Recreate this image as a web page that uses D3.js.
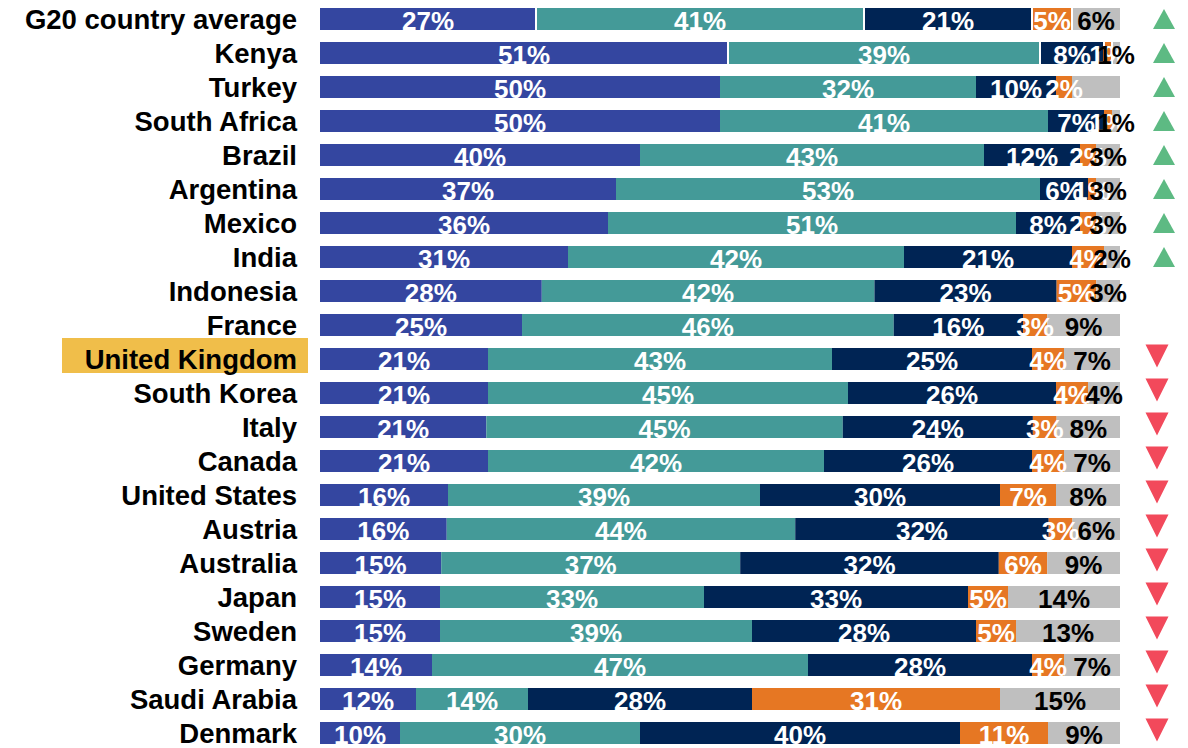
<!DOCTYPE html>
<html>
<head>
<meta charset="utf-8">
<script src="https://cdn.jsdelivr.net/npm/d3@7"></script>
<style>
  html, body { margin: 0; padding: 0; background: #ffffff; }
  svg { display: block; }
  text { font-family: "Liberation Sans", Arial, sans-serif; font-weight: bold; }
</style>
</head>
<body>
<svg id="chart" width="1188" height="748"></svg>
<script>
// Countries, top to bottom
const countries = [
  "G20 country average", "Kenya", "Turkey", "South Africa", "Brazil", "Argentina",
  "Mexico", "India", "Indonesia", "France", "United Kingdom", "South Korea", "Italy",
  "Canada", "United States", "Austria", "Australia", "Japan", "Sweden", "Germany",
  "Saudi Arabia", "Denmark"
];

// Share of respondents (%) in each of the five answer groups
const groupA = [27, 51, 50, 50, 40, 37, 36, 31, 28, 25, 21, 21, 21, 21, 16, 16, 15, 15, 15, 14, 12, 10];
const groupB = [41, 39, 32, 41, 43, 53, 51, 42, 42, 46, 43, 45, 45, 42, 39, 44, 37, 33, 39, 47, 14, 30];
const groupC = [21,  8, 10,  7, 12,  6,  8, 21, 23, 16, 25, 26, 24, 26, 30, 32, 32, 33, 28, 28, 28, 40];
const groupD = [ 5,  1,  2,  1,  2,  1,  2,  4,  5,  3,  4,  4,  3,  4,  7,  3,  6,  5,  5,  4, 31, 11];
const groupE = [ 6,  1,  6,  1,  3,  3,  3,  2,  3,  9,  7,  4,  8,  7,  8,  6,  9, 14, 13,  7, 15,  9];

// Segments drawn without a value label
const unlabeled = [{ country: "Turkey", group: "E" }];

// Rows whose segments are separated by thin white rules
const separatedRows = ["G20 country average", "Kenya"];

// Direction marker shown to the right of each bar
const trend = [
  "up", "up", "up", "up", "up", "up", "up", "up",
  "", "",
  "down", "down", "down", "down", "down", "down", "down", "down", "down", "down", "down", "down"
];

const highlighted = "United Kingdom";

const groupKeys = ["A", "B", "C", "D", "E"];
const groupColors = { A: "#3446a0", B: "#449a98", C: "#002454", D: "#e67723", E: "#bfbfbf" };
const labelColors = { A: "#ffffff", B: "#ffffff", C: "#ffffff", D: "#ffffff", E: "#000000" };

const rows = countries.map((c, i) => ({
  country: c,
  A: groupA[i], B: groupB[i], C: groupC[i], D: groupD[i], E: groupE[i],
  trend: trend[i]
}));

const svg = d3.select("#chart");

const x = d3.scaleLinear().domain([0, 1]).range([320, 1120]);
const y = d3.scaleBand().domain(countries).range([2, 750])
  .paddingInner(12 / 34).paddingOuter(6 / 34);

// 100% stacked layout
const stack = d3.stack().keys(groupKeys).offset(d3.stackOffsetExpand);
const series = stack(rows);

// Highlight box behind the selected country name
svg.append("rect")
  .attr("x", 62)
  .attr("y", y(highlighted) - 10)
  .attr("width", 246)
  .attr("height", 35)
  .attr("fill", "#f0be4a");

// Country names
svg.append("g")
  .selectAll("text")
  .data(countries)
  .join("text")
  .attr("x", 297)
  .attr("y", d => y(d) + y.bandwidth() / 2 + 10)
  .attr("text-anchor", "end")
  .attr("font-size", 27.5)
  .attr("fill", "#000")
  .text(d => d);

// Bar segments
const segGroup = svg.append("g");
series.forEach(s => {
  segGroup.append("g")
    .attr("fill", groupColors[s.key])
    .selectAll("rect")
    .data(s)
    .join("rect")
    .attr("x", d => x(d[0]))
    .attr("y", d => y(d.data.country))
    .attr("width", d => x(d[1]) - x(d[0]))
    .attr("height", y.bandwidth());
});

// White dividers between segments in the separated rows
const dividers = [];
series.slice(1).forEach(s => {
  s.forEach(d => {
    if (separatedRows.includes(d.data.country)) dividers.push(d);
  });
});
svg.append("g")
  .attr("fill", "#ffffff")
  .selectAll("rect")
  .data(dividers)
  .join("rect")
  .attr("x", d => x(d[0]) - 1)
  .attr("y", d => y(d.data.country))
  .attr("width", 2)
  .attr("height", y.bandwidth());

// Value labels, row by row so later segments sit on top
const labelGroup = svg.append("g").attr("font-size", 26).attr("text-anchor", "middle");
rows.forEach((r, i) => {
  series.forEach(s => {
    const d = s[i];
    if (unlabeled.some(u => u.country === r.country && u.group === s.key)) return;
    labelGroup.append("text")
      .attr("x", (x(d[0]) + x(d[1])) / 2)
      .attr("y", y(r.country) + y.bandwidth())
      .attr("fill", labelColors[s.key])
      .text(r[s.key] + "%");
  });
});

// Trend markers
const upPath = "M-11,10L11,10L0,-10Z";
const downPath = "M-11.5,-11.5L11.5,-11.5L0,11.5Z";
svg.append("g")
  .selectAll("path")
  .data(rows.filter(r => r.trend))
  .join("path")
  .attr("transform", d => d.trend === "up"
    ? `translate(1164,${y(d.country) + y.bandwidth() / 2})`
    : `translate(1157,${y(d.country) + y.bandwidth() / 2 - 3})`)
  .attr("d", d => d.trend === "up" ? upPath : downPath)
  .attr("fill", d => d.trend === "up" ? "#5dba83" : "#f2495b");
</script>
</body>
</html>
